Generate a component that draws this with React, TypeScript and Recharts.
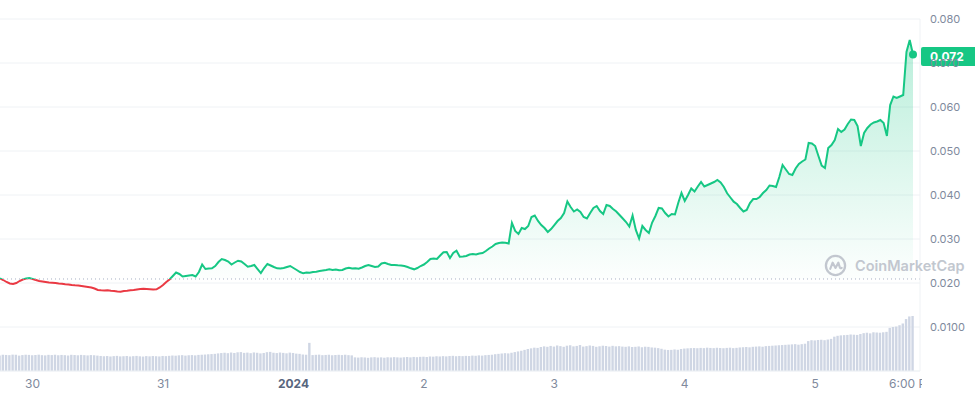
import {
  ComposedChart,
  Area,
  Bar,
  XAxis,
  YAxis,
  CartesianGrid,
  ReferenceLine,
  ReferenceDot,
} from "recharts";

// time axis: hours relative to Jan 1 2024 00:00, first sample Dec 29 18:00
const START_HOUR = -54;
const STEP_HOURS = 0.6;

const PRICE = [
  0.02107, 0.02068, 0.02023, 0.01989, 0.01977, 0.02, 0.02045, 0.0208, 0.02102, 0.02114,
  0.02091, 0.02068, 0.02045, 0.02034, 0.02023, 0.02011, 0.02005, 0.02, 0.01989, 0.01982,
  0.0197, 0.01966, 0.01955, 0.01948, 0.01943, 0.01932, 0.0192, 0.01909, 0.01898, 0.01875,
  0.01841, 0.01834, 0.0183, 0.01834, 0.01823, 0.01818, 0.01807, 0.018, 0.01818, 0.01823,
  0.01834, 0.01841, 0.01852, 0.01864, 0.0187, 0.01864, 0.01859, 0.01852, 0.01857, 0.01898,
  0.01955, 0.02023, 0.0208, 0.02159, 0.02239, 0.02205, 0.02148, 0.02159, 0.0217, 0.02182,
  0.02148, 0.0225, 0.0242, 0.02318, 0.0233, 0.02334, 0.02386, 0.02477, 0.02545, 0.02523,
  0.02489, 0.0242, 0.02466, 0.02507, 0.02489, 0.02432, 0.0237, 0.02386, 0.02409, 0.02318,
  0.02227, 0.02341, 0.02432, 0.02398, 0.02364, 0.02334, 0.0233, 0.02341, 0.02364, 0.02386,
  0.02341, 0.02295, 0.0225, 0.0222, 0.02239, 0.02232, 0.0225, 0.02257, 0.02273, 0.02284,
  0.02295, 0.02311, 0.02295, 0.02307, 0.02289, 0.02295, 0.0233, 0.02348, 0.0233, 0.02334,
  0.02325, 0.02352, 0.02386, 0.02409, 0.02386, 0.02364, 0.02375, 0.02443, 0.02461, 0.02432,
  0.02409, 0.02409, 0.02402, 0.02398, 0.02386, 0.02364, 0.02334, 0.02311, 0.02341, 0.02386,
  0.0242, 0.02477, 0.02545, 0.02557, 0.02545, 0.02625, 0.02698, 0.02705, 0.02568, 0.02682,
  0.02734, 0.02598, 0.02602, 0.02614, 0.02648, 0.02659, 0.02648, 0.0267, 0.02682, 0.02727,
  0.02784, 0.0283, 0.02886, 0.02909, 0.0292, 0.02916, 0.02898, 0.03364, 0.03182, 0.03114,
  0.0325, 0.03227, 0.03295, 0.035, 0.03534, 0.03409, 0.03318, 0.0325, 0.03159, 0.03227,
  0.03318, 0.03409, 0.03477, 0.03591, 0.03852, 0.03727, 0.03625, 0.0367, 0.03614, 0.035,
  0.03466, 0.03591, 0.03705, 0.0375, 0.03636, 0.03568, 0.03773, 0.0375, 0.03682, 0.03625,
  0.03545, 0.03466, 0.03386, 0.03284, 0.03534, 0.03205, 0.03011, 0.03295, 0.03205, 0.03136,
  0.03375, 0.03523, 0.03705, 0.03693, 0.03591, 0.03511, 0.03568, 0.03557, 0.03818, 0.04045,
  0.03864, 0.04, 0.04148, 0.0408, 0.04193, 0.04295, 0.04193, 0.04227, 0.04261, 0.04295,
  0.04341, 0.04284, 0.04182, 0.04039, 0.03943, 0.03848, 0.03795, 0.03705, 0.03625, 0.03659,
  0.03818, 0.03909, 0.03909, 0.03955, 0.04045, 0.04114, 0.04216, 0.04205, 0.04182, 0.04409,
  0.04682, 0.0458, 0.04477, 0.04455, 0.04602, 0.04705, 0.04761, 0.04807, 0.05182, 0.0517,
  0.05114, 0.04886, 0.0467, 0.04614, 0.05068, 0.05136, 0.0525, 0.055, 0.05432, 0.05489,
  0.05614, 0.05716, 0.05705, 0.05568, 0.05114, 0.05409, 0.05523, 0.05602, 0.05648, 0.0567,
  0.05705, 0.05636, 0.05341, 0.06045, 0.06239, 0.06205, 0.06239, 0.06273, 0.0725, 0.07523,
  0.07193,
];

// 24h volume, millions USD
const VOLUME = [
  3.55, 3.7, 3.65, 3.6, 3.72, 3.68, 3.5, 3.62, 3.7, 3.66,
  3.58, 3.64, 3.71, 3.6, 3.55, 3.67, 3.62, 3.7, 3.58, 3.65,
  3.6, 3.52, 3.68, 3.63, 3.57, 3.66, 3.6, 3.54, 3.62, 3.58,
  3.5, 3.42, 3.35, 3.4, 3.3, 3.38, 3.44, 3.32, 3.36, 3.41,
  3.3, 3.37, 3.43, 3.34, 3.28, 3.39, 3.33, 3.4, 3.36, 3.31,
  3.42, 3.38, 3.45, 3.52, 3.48, 3.56, 3.6, 3.5, 3.58, 3.62,
  3.55, 3.66, 3.7, 3.74, 3.8, 3.85, 3.9, 4.0, 4.08, 4.15,
  4.05, 4.2, 4.1, 4.25, 4.3, 4.12, 4.18, 4.05, 4.22, 4.14,
  4.0, 4.1, 4.28, 4.35, 4.15, 4.08, 4.2, 4.12, 4.02, 4.18,
  4.1, 3.95, 3.9, 3.75, 3.7, 6.4, 3.62, 3.68, 3.72, 3.6,
  3.65, 3.7, 3.58, 3.64, 3.68, 3.62, 3.7, 3.6, 3.55, 3.1,
  3.05, 3.12, 3.08, 3.0, 3.1, 3.14, 3.06, 3.1, 3.02, 3.12,
  3.08, 3.15, 3.1, 3.05, 3.12, 3.18, 3.1, 3.2, 3.14, 3.22,
  3.25, 3.18, 3.3, 3.26, 3.35, 3.3, 3.38, 3.32, 3.4, 3.45,
  3.36, 3.42, 3.38, 3.44, 3.4, 3.5, 3.46, 3.55, 3.5, 3.6,
  3.65, 3.7, 3.82, 3.9, 3.98, 4.05, 4.0, 4.15, 4.3, 4.45,
  4.6, 4.8, 5.0, 5.15, 5.3, 5.25, 5.45, 5.6, 5.5, 5.7,
  5.55, 5.8, 5.65, 5.5, 5.75, 5.85, 5.6, 5.7, 5.9, 5.55,
  5.65, 5.8, 5.7, 5.5, 5.62, 5.75, 5.68, 5.55, 5.72, 5.6,
  5.65, 5.55, 5.5, 5.6, 5.45, 5.5, 5.58, 5.4, 5.52, 5.48,
  5.35, 5.3, 5.2, 5.05, 4.85, 4.78, 4.8, 4.9, 4.82, 5.0,
  5.1, 5.15, 5.2, 5.22, 5.18, 5.25, 5.2, 5.3, 5.24, 5.2,
  5.28, 5.22, 5.18, 5.25, 5.3, 5.2, 5.26, 5.35, 5.4, 5.45,
  5.38, 5.5, 5.55, 5.6, 5.52, 5.65, 5.7, 5.75, 5.8, 5.85,
  5.9, 5.95, 6.0, 6.05, 6.1, 5.98, 6.1, 6.2, 6.8, 7.0,
  6.95, 7.05, 7.1, 7.0, 7.15, 7.3, 7.8, 8.0, 8.1, 8.15,
  8.2, 8.3, 8.25, 8.2, 8.4, 8.6, 8.7, 8.55, 8.8, 8.75,
  8.7, 8.8, 8.9, 9.8, 10.0, 10.1, 10.4, 10.8, 11.8, 12.4,
  12.5,
];

const BASE_PRICE = 0.02091; // opening price of the period

const X_TICKS = [-48, -24, 0, 24, 48, 72, 96, 114];
const X_TICK_LABELS = ["30", "31", "2024", "2", "3", "4", "5", "6:00 PM"];
const Y_TICKS = [0.01, 0.02, 0.03, 0.04, 0.05, 0.06, 0.07, 0.08];
const Y_TICK_LABELS = ["0.0100", "0.020", "0.030", "0.040", "0.050", "0.060", "0.070", "0.080"];

const GREEN = "#16c784";
const RED = "#ea3943";
const FONT = "Inter, 'Noto Sans', sans-serif";

const rows = PRICE.map((price, i) => ({
  t: START_HOUR + i * STEP_HOURS,
  price,
  volume: VOLUME[i],
}));

const lastRow = rows[rows.length - 1];
const maxPrice = Math.max(...PRICE);
const minPrice = Math.min(...PRICE);
const splitOffset = (maxPrice - BASE_PRICE) / (maxPrice - minPrice);

function XTick(props: any) {
  const { x, y, payload } = props;
  const label = X_TICK_LABELS[X_TICKS.indexOf(payload.value)];
  const isYear = label === "2024";
  return (
    <text
      x={x}
      y={y}
      dy="0.71em"
      textAnchor="middle"
      clipPath="url(#xTickClip)"
      fill={isYear ? "#58667e" : "#808a9d"}
      fontWeight={isYear ? 700 : 400}
      fontSize={12}
      fontFamily={FONT}
    >
      {label}
    </text>
  );
}

const renderPriceTag = (props: any) => {
  const { viewBox } = props;
  const left = viewBox.x + viewBox.width + 1;
  const cy = viewBox.y + 2;
  return (
    <g>
      <rect x={left} y={cy - 9.5} width={56} height={19} rx={2} fill={GREEN} />
      <text
        x={left + 9}
        y={cy}
        dy="0.35em"
        fill="#fff"
        fontWeight={700}
        fontSize={12}
        fontFamily={FONT}
      >
        {lastRow.price.toFixed(3)}
      </text>
    </g>
  );
};

function Watermark() {
  return (
    <div
      style={{
        position: "absolute",
        left: 824,
        top: 254,
        display: "flex",
        alignItems: "center",
        gap: 8,
        color: "#c2c7cf",
        fontFamily: FONT,
        fontWeight: 600,
        fontSize: 14.5,
        pointerEvents: "none",
      }}
    >
      <svg width={23} height={23} viewBox="0 0 24 24">
        <circle cx={12} cy={12} r={10} fill="none" stroke="currentColor" strokeWidth={2.4} />
        <path
          d="M6.5 15.5 L9 9 L12 14.5 L15 9 L16.5 14 Q17 15.5 18.5 14.5"
          fill="none"
          stroke="currentColor"
          strokeWidth={2.2}
          strokeLinejoin="round"
          strokeLinecap="round"
        />
      </svg>
      <span>CoinMarketCap</span>
    </div>
  );
}

export default function App() {
  return (
    <div
      style={{
        position: "absolute",
        left: 0,
        top: 0,
        width: 975,
        height: 396,
        background: "#ffffff",
      }}
    >
      <ComposedChart
        width={975}
        height={396}
        data={rows}
        margin={{ top: 19, right: 0, bottom: 0, left: 0 }}
      >
        <defs>
          <linearGradient id="splitStroke" x1="0" y1="0" x2="0" y2="1">
            <stop offset={splitOffset} stopColor={GREEN} />
            <stop offset={splitOffset} stopColor={RED} />
          </linearGradient>
          <linearGradient id="splitFill" x1="0" y1="0" x2="0" y2="1">
            <stop offset={0} stopColor={GREEN} stopOpacity={0.3} />
            <stop offset={splitOffset} stopColor={GREEN} stopOpacity={0.01} />
            <stop offset={splitOffset} stopColor={RED} stopOpacity={0} />
            <stop offset={1} stopColor={RED} stopOpacity={0} />
          </linearGradient>
          <clipPath id="xTickClip">
            <rect x={0} y={360} width={922} height={36} />
          </clipPath>
        </defs>
        <CartesianGrid vertical={false} stroke="#eff2f5" />
        <XAxis
          dataKey="t"
          type="number"
          domain={[START_HOUR, lastRow.t]}
          ticks={X_TICKS}
          padding={{ left: 0, right: 7 }}
          height={25}
          axisLine={{ stroke: "#eff2f5" }}
          tickLine={false}
          tick={<XTick />}
          interval={0}
        />
        <YAxis
          orientation="right"
          domain={[0, 0.08]}
          ticks={Y_TICKS}
          width={55}
          axisLine={{ stroke: "#eff2f5" }}
          tickLine={false}
          tickMargin={4}
          tickFormatter={(v: number, i: number) => Y_TICK_LABELS[i]}
          tick={{ fill: "#808a9d", fontSize: 11, fontFamily: FONT }}
        />
        <YAxis yAxisId="vol" hide domain={[0, 80]} />
        <Bar
          yAxisId="vol"
          dataKey="volume"
          fill="#cfd6e4"
          barSize={2.4}
          isAnimationActive={false}
        />
        <ReferenceLine
          y={BASE_PRICE}
          stroke="#a6b0c3"
          strokeDasharray="1 3"
          strokeWidth={1}
        />
        <Area
          type="linear"
          dataKey="price"
          baseValue={BASE_PRICE}
          stroke="url(#splitStroke)"
          strokeWidth={2}
          fill="url(#splitFill)"
          fillOpacity={1}
          dot={false}
          activeDot={false}
          isAnimationActive={false}
        />
        <ReferenceDot
          x={lastRow.t}
          y={lastRow.price}
          r={4}
          fill={GREEN}
          stroke="none"
        />
        <ReferenceLine y={lastRow.price} stroke="none" label={renderPriceTag} />
      </ComposedChart>
      <Watermark />
    </div>
  );
}
